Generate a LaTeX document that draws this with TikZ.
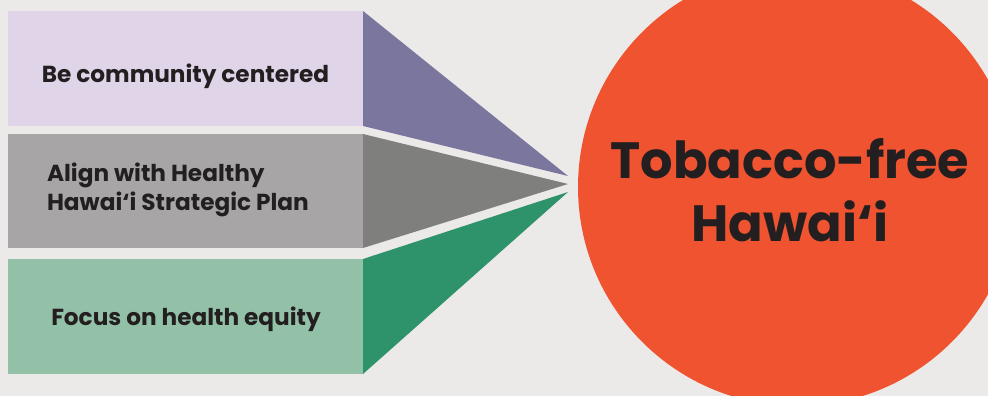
\documentclass[tikz,border=0pt]{standalone}
\usepackage{fontspec}
\setmainfont{Poppins}
\definecolor{bg}{HTML}{EBEAE8}
\definecolor{ink}{HTML}{231F20}
\definecolor{lilac}{HTML}{E0D4E8}
\definecolor{violet}{HTML}{7B769E}
\definecolor{greybox}{HTML}{A7A5A6}
\definecolor{greytri}{HTML}{7F807E}
\definecolor{mint}{HTML}{93C1A8}
\definecolor{jade}{HTML}{2E926A}
\definecolor{tomato}{HTML}{EF532F}
\begin{document}
\begin{tikzpicture}[x=1pt,y=-1pt,
  panel/.style={inner sep=0pt, outer sep=0pt, minimum width=355pt, anchor=north west},
  label/.style={font=\bfseries\fontsize{23.2}{29}\selectfont, text=ink},
  title/.style={font=\bfseries\fontsize{51}{63}\selectfont, text=ink, align=center}]
  \fill[bg] (0,0) rectangle (988,396);
  \useasboundingbox (0,0) rectangle (988,396);
  % goal circle
  \fill[tomato] (797,187) circle[radius=219];
  \node[title] (goal) at (790,190) {Tobacco-free\\Hawai‘i};
  % three principle panels
  \node[panel, fill=lilac, minimum height=115pt] (p1) at (8,11) {};
  \node[panel, fill=greybox, minimum height=114pt] (p2) at (8,134) {};
  \node[panel, fill=mint, minimum height=115pt] (p3) at (8,259) {};
  % wedges pointing at the goal
  \fill[violet] (p1.north east) -- (568,176) -- (p1.south east) -- cycle;
  \fill[greytri] (p2.north east) -- (568,184) -- (p2.south east) -- cycle;
  \fill[jade] (p3.north east) -- (568,192) -- (p3.south east) -- cycle;
  % panel texts, set on their baselines
  \node[label, anchor=base] (t1) at (185.5,83) {Be community centered};
  \node[label, align=left, anchor=west] (t2) at ([xshift=35.5pt,yshift=1pt]p2.west) {Align with Healthy\\Hawai‘i Strategic Plan};
  \node[label, anchor=base] (t3) at (186,325) {Focus on health equity};
\end{tikzpicture}
\end{document}
